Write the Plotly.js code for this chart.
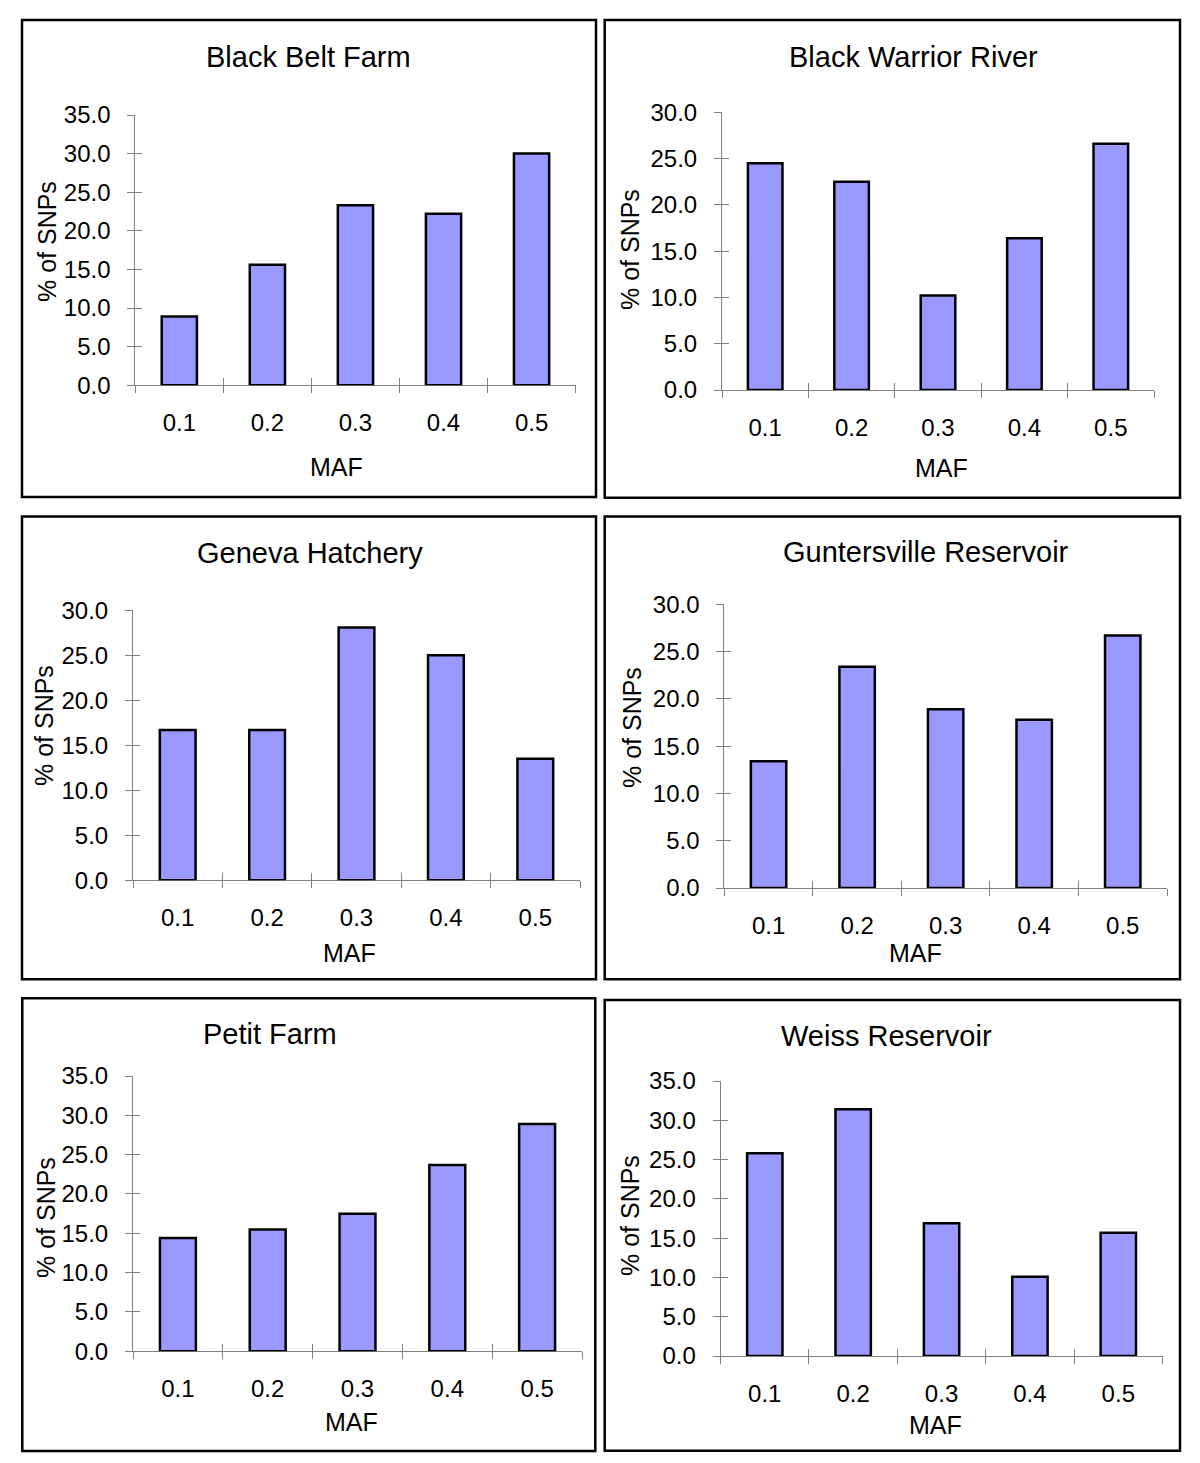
<!DOCTYPE html>
<html>
<head>
<meta charset="utf-8">
<script src="https://cdn.plot.ly/plotly-3.0.1.min.js"></script>
<style>
  html, body { margin: 0; padding: 0; background: #fff; }
  #chart { width: 1200px; height: 1463px; }
</style>
</head>
<body>
<div id="chart"></div>
<script>
// SNP minor allele frequency distribution, six sites

const categories = ['0.1', '0.2', '0.3', '0.4', '0.5'];
const siteNames = ['Black Belt Farm', 'Black Warrior River', 'Geneva Hatchery',
                   'Guntersville Reservoir', 'Petit Farm', 'Weiss Reservoir'];

const blackBeltFarm         = [8.9, 15.6, 23.3, 22.2, 30.0];
const blackWarriorRiver     = [24.5, 22.5, 10.2, 16.4, 26.6];
const genevaHatchery        = [16.7, 16.7, 28.1, 25.0, 13.5];
const guntersvilleReservoir = [13.4, 23.4, 18.9, 17.8, 26.7];
const petitFarm             = [14.4, 15.5, 17.5, 23.7, 28.9];
const weissReservoir        = [25.8, 31.4, 16.9, 10.1, 15.7];

const yAxisMax = [35, 30, 30, 30, 35, 35];
const xAxisLabel = 'MAF';
const yAxisLabel = '% of SNPs';

const siteValues = [blackBeltFarm, blackWarriorRiver, genevaHatchery,
                    guntersvilleReservoir, petitFarm, weissReservoir];

// panel geometry in page pixels
const W = 1200, H = 1463;
const panels = [
  {box:[22,20,596,497],        plot:[135.3,575.6,115,385.3],  title:[308,57],   yt:[47,242],   xt:[336,467]},
  {box:[604.7,20,1180,497.7],  plot:[722,1154,112.3,390],     title:[913,57],   yt:[630,250],  xt:[941,468]},
  {box:[22,516.5,596,979.3],   plot:[133,580,610.3,880.3],    title:[310,553],  yt:[44,726],   xt:[349,953]},
  {box:[604.7,516.5,1180,979.3],plot:[724.3,1167,604.3,888],  title:[926,552],  yt:[632,727],  xt:[915,953]},
  {box:[22.3,998.3,595.3,1451],plot:[133,582,1076,1351.3],    title:[270,1034], yt:[46,1218],  xt:[351,1422]},
  {box:[604.7,1000,1180,1450.7],plot:[720.6,1162.5,1081,1356],title:[886,1036], yt:[630,1216], xt:[935,1425]}
];

const px = x => x / W;
const py = y => 1 - y / H;

const FONT = '"Liberation Sans", Arial, Helvetica, sans-serif';
const AXIS_GREY = '#808080';

const traces = [];
const layout = {
  width: W,
  height: H,
  margin: {l:0, r:0, t:0, b:0},
  paper_bgcolor: '#fff',
  plot_bgcolor: 'rgba(0,0,0,0)',
  showlegend: false,
  bargap: 0.6,
  font: {family: FONT, color: '#000'},
  shapes: [],
  annotations: []
};

function axName(letter, n){ return letter + 'axis' + (n === 1 ? '' : n); }
function axRef(letter, n){ return letter + (n === 1 ? '' : n); }

siteValues.forEach((vals, i) => {
  const n = i + 1;      // main axes
  const o = i + 7;      // overlay axes (inside half of the cross ticks)
  const g = panels[i];
  const [x0, x1, yTop, yBot] = g.plot;

  traces.push({
    type: 'bar',
    x: categories,
    y: vals,
    xaxis: axRef('x', n),
    yaxis: axRef('y', n),
    marker: {color: '#9999FF', line: {color: '#000', width: 2.5}},
    hoverinfo: 'x+y'
  });
  // invisible copies so the overlay axes get drawn
  traces.push({
    type: 'scatter', mode: 'markers', x: categories, y: vals,
    xaxis: axRef('x', o), yaxis: axRef('y', n),
    marker: {opacity: 0}, hoverinfo: 'skip'
  });
  traces.push({
    type: 'scatter', mode: 'markers', x: categories, y: vals,
    xaxis: axRef('x', n), yaxis: axRef('y', o),
    marker: {opacity: 0}, hoverinfo: 'skip'
  });

  layout[axName('x', n)] = {
    domain: [px(x0), px(x1)],
    anchor: axRef('y', n),
    type: 'category',
    range: [-0.5, categories.length - 0.5],
    tickson: 'boundaries',
    ticks: 'outside', ticklen: 7, tickwidth: 1, tickcolor: AXIS_GREY,
    showline: true, linecolor: AXIS_GREY, linewidth: 1,
    showgrid: false, zeroline: false,
    layer: 'below traces',
    tickfont: {family: FONT, size: 24, color: '#000'},
    ticklabelstandoff: 16,
    fixedrange: true
  };
  layout[axName('x', o)] = {
    overlaying: axRef('x', n),
    anchor: axRef('y', n),
    type: 'category',
    range: [-0.5, categories.length - 0.5],
    tickson: 'boundaries',
    ticks: 'inside', ticklen: 7, tickwidth: 1, tickcolor: AXIS_GREY,
    showticklabels: false, showline: false, showgrid: false, zeroline: false,
    fixedrange: true
  };
  layout[axName('y', n)] = {
    domain: [py(yBot), py(yTop)],
    anchor: axRef('x', n),
    range: [0, yAxisMax[i]],
    tick0: 0, dtick: 5, tickformat: '.1f',
    ticks: 'outside', ticklen: 7, tickwidth: 1, tickcolor: AXIS_GREY,
    showline: true, linecolor: AXIS_GREY, linewidth: 1,
    showgrid: false, zeroline: false,
    tickfont: {family: FONT, size: 24, color: '#000'},
    ticklabelstandoff: 12,
    fixedrange: true
  };
  layout[axName('y', o)] = {
    overlaying: axRef('y', n),
    anchor: axRef('x', n),
    side: 'left',
    range: [0, yAxisMax[i]],
    tick0: 0, dtick: 5,
    ticks: 'inside', ticklen: 7, tickwidth: 1, tickcolor: AXIS_GREY,
    showticklabels: false, showline: false, showgrid: false, zeroline: false,
    fixedrange: true
  };

  // panel frame
  layout.shapes.push({
    type: 'rect', xref: 'paper', yref: 'paper',
    x0: px(g.box[0]), x1: px(g.box[2]), y0: py(g.box[3]), y1: py(g.box[1]),
    line: {color: '#000', width: 2.5}, fillcolor: 'rgba(0,0,0,0)'
  });

  layout.annotations.push({
    text: siteNames[i], xref: 'paper', yref: 'paper',
    x: px(g.title[0]), y: py(g.title[1]), xanchor: 'center', yanchor: 'middle',
    showarrow: false, font: {family: FONT, size: 29, color: '#000'}
  });
  layout.annotations.push({
    text: yAxisLabel, xref: 'paper', yref: 'paper', textangle: -90,
    x: px(g.yt[0]), y: py(g.yt[1]), xanchor: 'center', yanchor: 'middle',
    showarrow: false, font: {family: FONT, size: 25, color: '#000'}
  });
  layout.annotations.push({
    text: xAxisLabel, xref: 'paper', yref: 'paper',
    x: px(g.xt[0]), y: py(g.xt[1]), xanchor: 'center', yanchor: 'middle',
    showarrow: false, font: {family: FONT, size: 25, color: '#000'}
  });
});

Plotly.newPlot('chart', traces, layout, {displayModeBar: false, staticPlot: true});
</script>
</body>
</html>
